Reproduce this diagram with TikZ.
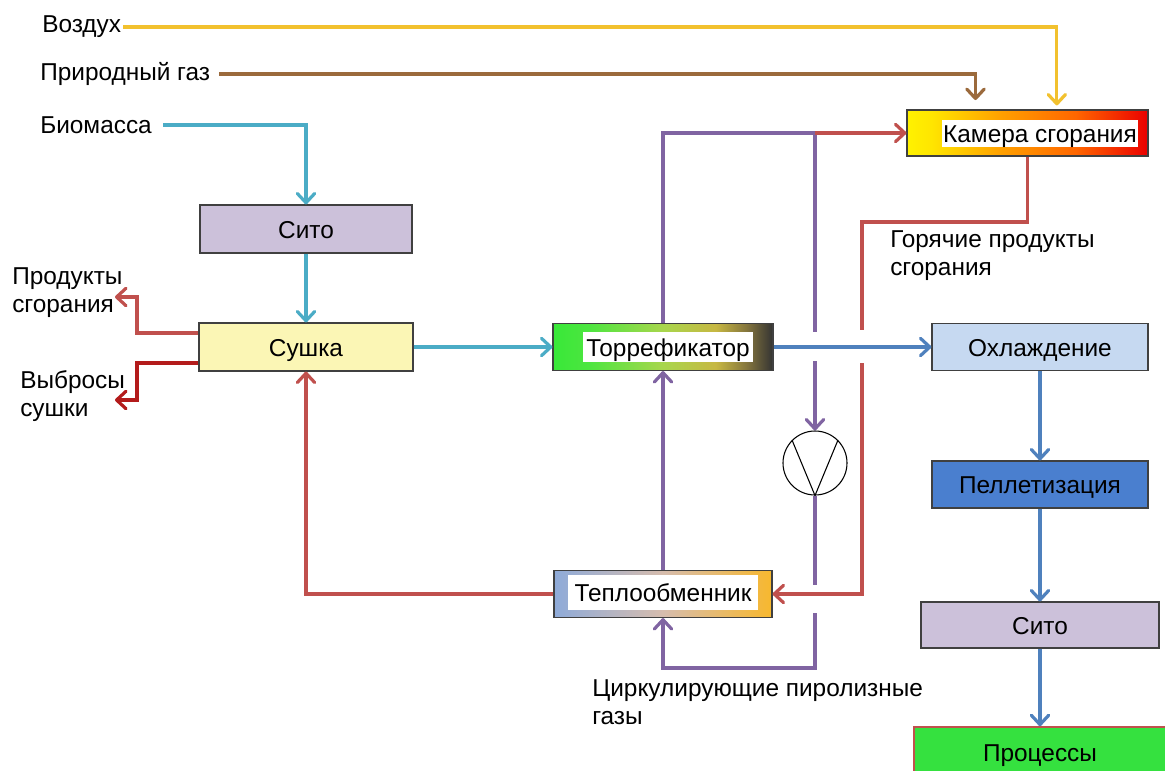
\documentclass[tikz,border=0pt]{standalone}
\usepackage{fontspec}
\setmainfont{Liberation Sans}
\usetikzlibrary{arrows.meta}
\definecolor{cAir}{HTML}{F2C12E}
\definecolor{cGas}{HTML}{9B6A3C}
\definecolor{cBio}{HTML}{4BACC6}
\definecolor{cBlue}{HTML}{4F81BD}
\definecolor{cPurp}{HTML}{8064A2}
\definecolor{cRed}{HTML}{C0504D}
\definecolor{cDred}{HTML}{B31B1B}
\definecolor{fSito}{HTML}{CCC1DA}
\definecolor{fSushka}{HTML}{FBF6B5}
\definecolor{fOhl}{HTML}{C6D9F1}
\definecolor{fPell}{HTML}{4A7FCF}
\definecolor{fProc}{HTML}{35E13F}
\definecolor{boxline}{HTML}{404040}
\pgfdeclarehorizontalshading{torrsh}{100bp}{rgb(0bp)=(0.22,0.91,0.22); rgb(25bp)=(0.22,0.91,0.22); rgb(33bp)=(0.3,0.9,0.25); rgb(50bp)=(0.66,0.84,0.3); rgb(62bp)=(0.78,0.72,0.26); rgb(69bp)=(0.52,0.46,0.24); rgb(75bp)=(0.2,0.2,0.2); rgb(100bp)=(0.2,0.2,0.2)}
\pgfdeclarehorizontalshading{kamsh}{100bp}{rgb(0bp)=(1,0.95,0); rgb(25bp)=(1,0.95,0); rgb(30bp)=(1,0.9,0); rgb(45bp)=(1,0.62,0); rgb(60bp)=(1,0.4,0); rgb(75bp)=(0.92,0,0); rgb(100bp)=(0.92,0,0)}
\pgfdeclarehorizontalshading{teplosh}{100bp}{rgb(0bp)=(0.56,0.67,0.85); rgb(25bp)=(0.56,0.67,0.85); rgb(50bp)=(0.84,0.74,0.68); rgb(75bp)=(0.97,0.72,0.18); rgb(100bp)=(0.97,0.72,0.18)}
\begin{document}
\begin{tikzpicture}[x=0.75pt,y=-0.75pt,
  every node/.style={font=\fontsize{18.3}{21}\selectfont, text=black},
  box/.style={draw=boxline, line width=0.9pt, inner sep=0pt, text height=13.5pt, text depth=0pt},
  lblbox/.style={fill=white, inner sep=0pt, text height=13.5pt, text depth=0pt},
  flow/.style={line width=2.4pt, -{Straight Barb[length=7pt,width=13pt,round]}},
  plain/.style={line width=2.4pt},
  txt/.style={inner sep=1.5pt, anchor=west, align=left}]
\useasboundingbox (0,0) rectangle (1165,771);
\clip (0,0) rectangle (1165,771);
\fill[white] (0,0) rectangle (1165,771);

% text labels
\node[txt] (vozdukh) at (40,27) {Воздух};
\node[txt] (gaz) at (38,74) {Природный газ};
\node[txt] (biomassa) at (38,125) {Биомасса};
\node[txt] (produkty) at (10,293) {Продукты\\сгорания};
\node[txt] (vybrosy) at (18,396) {Выбросы\\сушки};
\node[txt] (goryachie) at (888,256) {Горячие продукты\\сгорания};
\node[txt] (cirk) at (590,702) {Циркулирующие пиролизные\\газы};

% boxes
\node[box, fill=fSito, minimum width=159pt, minimum height=36pt] (sito1) at (306,229) {Сито};
\node[box, fill=fSushka, minimum width=160.5pt, minimum height=36pt] (sushka) at (306,347) {Сушка};
\node[box, shade, shading=torrsh, minimum width=165pt, minimum height=35.25pt] (torr) at (663,347) {};
\node[lblbox, minimum width=127.5pt, minimum height=22.5pt] (torrl) at (668,347) {Торрефикатор};
\node[box, shade, shading=kamsh, minimum width=180.75pt, minimum height=34.5pt] (kamera) at (1027.5,133) {};
\node[lblbox, minimum width=147pt, minimum height=20pt] (kameral) at (1040,133.5) {Камера сгорания};
\node[box, shade, shading=teplosh, minimum width=163.5pt, minimum height=35.25pt] (teplo) at (663,594) {};
\node[lblbox, minimum width=142.5pt, minimum height=26.25pt] (teplol) at (663,592.5) {Теплообменник};
\node[box, fill=fOhl, minimum width=162pt, minimum height=35.25pt] (ohl) at (1040,347) {Охлаждение};
\node[box, fill=fPell, minimum width=162pt, minimum height=35.25pt] (pell) at (1040,484.5) {Пеллетизация};
\node[box, fill=fSito, minimum width=178.5pt, minimum height=34.5pt] (sito2) at (1040,625) {Сито};
\node[box, draw=cRed, line width=1.2pt, fill=fProc, minimum width=189pt, minimum height=37.5pt] (proc) at (1040,752) {Процессы};
\node[circle, draw, line width=0.8pt, minimum size=48pt, inner sep=0pt] (pump) at (815,463) {};
\draw[line width=0.8pt] (pump.135) -- (pump.south) -- (pump.45);

% coordinates
\coordinate (j) at (815,133);
\coordinate (pa) at (815,332);
\coordinate (pb) at (815,361);
\coordinate (pc) at (815,585);
\coordinate (pd) at (815,613);
\coordinate (pe) at (815,668);
\coordinate (r1) at (862,222);
\coordinate (r2) at (862,330);
\coordinate (r3) at (862,363);
\coordinate (pr) at (137,297);
\coordinate (prend) at (115,297);
\coordinate (vy) at (137,400);
\coordinate (vyend) at (115,400);

% connectors
\draw[flow, cAir] (vozdukh.east) -| ([xshift=22pt,yshift=3pt]kamera.north);
\draw[flow, cGas] ([xshift=5pt]gaz.east) -| ([xshift=-39pt,yshift=7pt]kamera.north);
\draw[flow, cBio] ([xshift=7pt]biomassa.east) -| (sito1.north);
\draw[flow, cBio] (sito1.south) -- (sushka.north);
\draw[flow, cBio] (sushka.east) -- (torr.west);
\draw[flow, cBlue] (torr.east) -- (ohl.west);
\draw[flow, cBlue] (ohl.south) -- (pell.north);
\draw[flow, cBlue] (pell.south) -- (sito2.north);
\draw[flow, cBlue] (sito2.south) -- (proc.north);
\draw[plain, cPurp] (torr.north) |- (j) -- (pa);
\draw[flow, cRed] (j) -- (kamera.west);
\draw[flow, cPurp] (pb) -- (pump.north);
\draw[plain, cPurp] (pump.south) -- (pc);
\draw[flow, cPurp] (pd) -- (pe) -| (teplo.south);
\draw[flow, cPurp] (teplo.north) -- (torr.south);
\draw[plain, cRed] (kamera.south) |- (r1) -- (r2);
\draw[flow, cRed] (r3) |- (teplo.east);
\draw[flow, cRed] (teplo.west) -| (sushka.south);
\draw[flow, cRed] ([yshift=10.5pt]sushka.west) -| (pr) -- (prend);
\draw[flow, cDred] ([yshift=-12pt]sushka.west) -| (vy) -- (vyend);
\end{tikzpicture}
\end{document}
